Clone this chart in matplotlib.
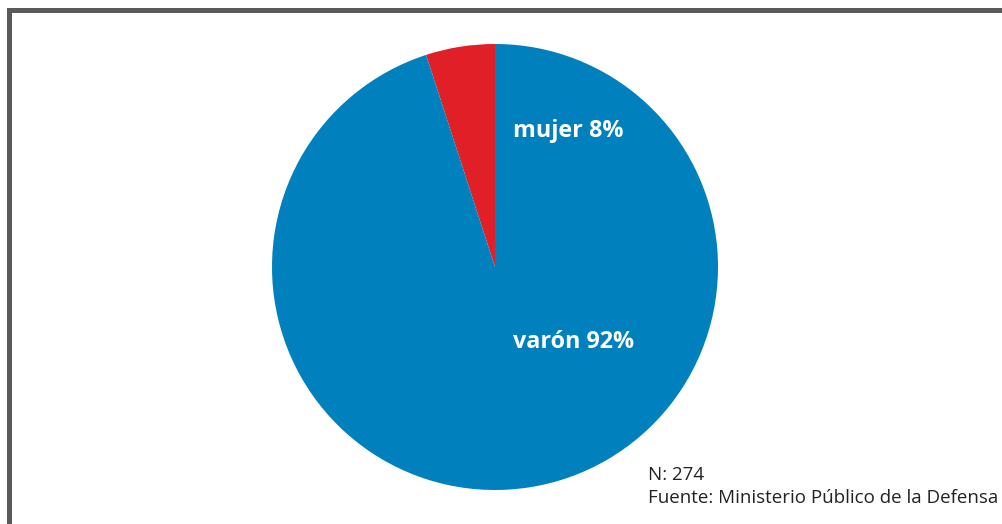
import matplotlib
matplotlib.use("Agg")
import matplotlib.pyplot as plt
from matplotlib.patches import Rectangle

categories = ["mujer", "varón"]
wedge_share = [5, 95]
label_pct = ["8%", "92%"]
colors = ["#E01F26", "#0080BC"]
note_n = "N: 274"
note_source = "Fuente: Ministerio Público de la Defensa"

W, H = 1003, 524
fig = plt.figure(figsize=(W / 100, H / 100), dpi=100)
ax = fig.add_axes([0, 0, 1, 1])

ax.pie(wedge_share, colors=colors, startangle=90, counterclock=True,
       center=(495, H - 267), radius=223, frame=True,
       wedgeprops=dict(linewidth=0))
ax.set_xlim(0, W)
ax.set_ylim(0, H)
ax.set_aspect("equal")
ax.axis("off")

# frame border
ax.add_patch(Rectangle((9.5, -20), W + 50, H - 9.5 + 20, fill=False,
                       edgecolor="#5a5a5a", linewidth=5 * 72 / 100, clip_on=False))

label_y = [131, 342]
for cat, pct, y in zip(categories, label_pct, label_y):
    ax.text(513, H - y, f"{cat} {pct}", color="white", fontsize=16.8,
            fontweight="bold", family="Open Sans", va="center", ha="left")

ax.text(648, H - 480, note_n, fontsize=13.5, family="Open Sans", color="#222222",
        va="baseline", ha="left")
ax.text(648, H - 503, note_source, fontsize=13.5, family="Open Sans", color="#222222",
        va="baseline", ha="left")

fig.savefig("out.png", dpi=100)
